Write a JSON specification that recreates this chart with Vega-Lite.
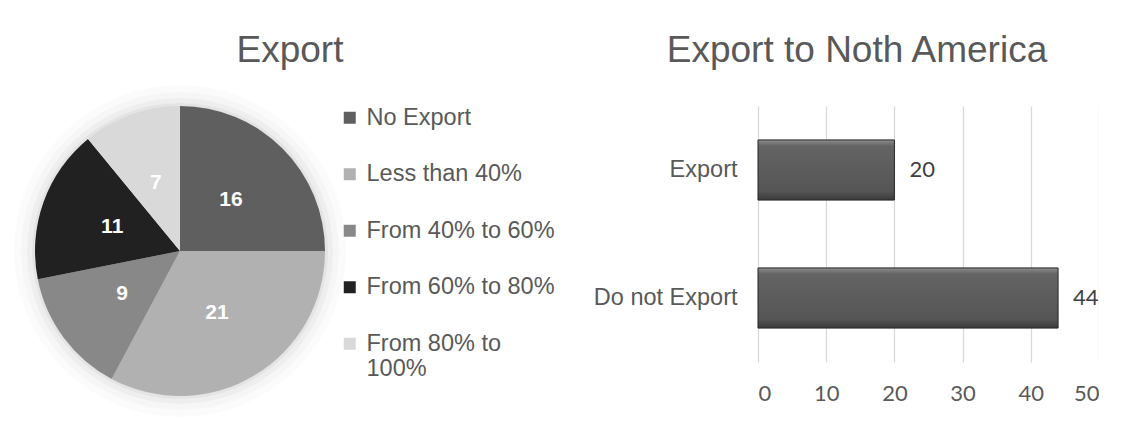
{
  "$schema": "https://vega.github.io/schema/vega-lite/v6.json",
  "background": "white",
  "padding": {"left": 14, "top": 32, "right": 0, "bottom": 0},
  "spacing": 38,
  "resolve": {"scale": {"color": "independent"}, "legend": {"color": "independent"}},
  "config": {"view": {"stroke": null}, "font": "Liberation Sans"},
  "datasets": {
    "pie": [
      {"category": "No Export", "count": 16},
      {"category": "Less than 40%", "count": 21},
      {"category": "From 40% to 60%", "count": 9},
      {"category": "From 60% to 80%", "count": 11},
      {"category": "From 80% to 100%", "count": 7}
    ],
    "bars": [
      {"group": "Export", "value": 20},
      {"group": "Do not Export", "value": 44}
    ]
  },
  "hconcat": [
    {
      "width": 290,
      "height": 290,
      "title": {"text": "Export", "fontSize": 37, "font": "Liberation Sans", "fontWeight": "normal", "color": "#595959", "dx": 110, "offset": -14, "baseline": "alphabetic", "anchor": "middle", "frame": "group"},
      "layer": [
        {"data": {"values": [{}]}, "mark": {"type": "arc", "theta": 0, "theta2": 6.2832, "radius": 166, "fill": "#000000", "fillOpacity": 0.015}, "encoding": {}},
        {"data": {"values": [{}]}, "mark": {"type": "arc", "theta": 0, "theta2": 6.2832, "radius": 159, "fill": "#000000", "fillOpacity": 0.02}, "encoding": {}},
        {"data": {"values": [{}]}, "mark": {"type": "arc", "theta": 0, "theta2": 6.2832, "radius": 153, "fill": "#000000", "fillOpacity": 0.03}, "encoding": {}},
        {"data": {"values": [{}]}, "mark": {"type": "arc", "theta": 0, "theta2": 6.2832, "radius": 148, "fill": "#000000", "fillOpacity": 0.04}, "encoding": {}},
        {
          "data": {"name": "pie"},
          "transform": [{"window": [{"op": "row_number", "as": "rn"}]}],
          "mark": {"type": "arc", "radius": 145},
          "encoding": {
            "theta": {"field": "count", "type": "quantitative", "stack": true},
            "order": {"field": "rn", "type": "quantitative"},
            "color": {
              "field": "category", "type": "nominal", "sort": null,
              "scale": {
                "domain": ["No Export", "Less than 40%", "From 40% to 60%", "From 60% to 80%", "From 80% to 100%"],
                "range": ["#5f5f5f", "#b1b1b1", "#888888", "#212121", "#d9d9d9"]
              },
              "legend": {
                "title": null, "orient": "right", "offset": 13, "padding": 0,
                "symbolType": "square", "symbolSize": 144, "symbolStrokeWidth": 0, "symbolOpacity": 1,
                "labelFont": "Liberation Sans", "labelFontSize": 23.5, "labelColor": "#595959",
                "labelOffset": 5, "rowPadding": 31.5, "labelLimit": 300,
                "labelExpr": "datum.label == 'From 80% to 100%' ? ['From 80% to', '100%'] : datum.label"
              }
            }
          }
        },
        {
          "data": {"name": "pie"},
          "transform": [{"window": [{"op": "row_number", "as": "rn"}]}],
          "mark": {"type": "text", "radius": 72, "fill": "white", "fontWeight": "bold", "fontSize": 21, "font": "Liberation Sans"},
          "encoding": {
            "theta": {"field": "count", "type": "quantitative", "stack": true},
            "order": {"field": "rn", "type": "quantitative"},
            "detail": {"field": "category", "type": "nominal"},
            "text": {"field": "count", "type": "quantitative"}
          }
        }
      ]
    },
    {
      "width": 341,
      "height": 256,
      "title": {"text": "Export to Noth America", "fontSize": 37, "font": "Liberation Sans", "fontWeight": "normal", "color": "#595959", "dx": -71.5, "offset": 7, "baseline": "alphabetic", "anchor": "middle", "frame": "group"},
      "data": {"name": "bars"},
      "encoding": {
        "y": {
          "field": "group", "type": "nominal", "sort": null,
          "scale": {"paddingInner": 0.53, "paddingOuter": 0.265},
          "axis": {"title": null, "domain": false, "ticks": false, "labelFont": "Liberation Sans", "labelFontSize": 23.5, "labelColor": "#595959", "labelPadding": 21, "labelLimit": 300}
        },
        "x": {
          "field": "value", "type": "quantitative",
          "scale": {"domain": [0, 50]},
          "axis": {"title": null, "values": [0, 10, 20, 30, 40, 50], "grid": true, "gridColor": "#d9d9d9", "gridWidth": 1.3, "domain": false, "ticks": false, "labelFont": "Lato", "labelFontSize": 22, "labelColor": "#595959", "labelPadding": 21}
        }
      },
      "layer": [
        {
          "mark": {
            "type": "bar",
            "color": {"gradient": "linear", "x1": 0, "y1": 0, "x2": 0, "y2": 1, "stops": [
              {"offset": 0, "color": "#8e8e8e"},
              {"offset": 0.1, "color": "#646464"},
              {"offset": 0.85, "color": "#555555"},
              {"offset": 1, "color": "#3a3a3a"}
            ]},
            "stroke": "#262626", "strokeWidth": 1
          }
        },
        {
          "mark": {"type": "text", "align": "left", "dx": 15, "font": "Lato", "fontSize": 22, "color": "#404040"},
          "encoding": {"text": {"field": "value", "type": "quantitative"}}
        }
      ]
    }
  ]
}
